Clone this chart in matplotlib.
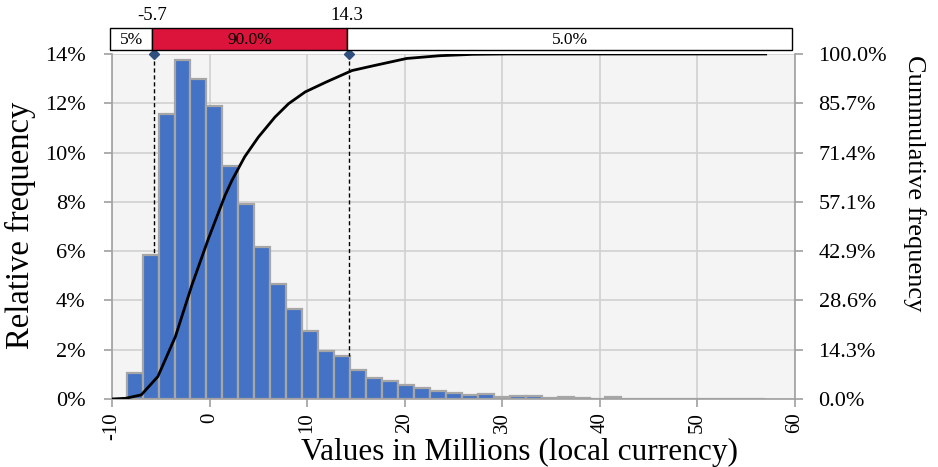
import matplotlib
matplotlib.use("Agg")
import matplotlib.pyplot as plt
import numpy as np

plt.rcParams['font.family'] = ['Liberation Serif', 'DejaVu Serif']
plt.rcParams['axes.unicode_minus'] = False

# ---- data ----
bin_start = -8.5
bin_width = 1.636
rel_freq = [1.05, 5.84, 11.55, 13.74, 12.98, 11.87, 9.45, 7.91, 6.18, 4.67,
            3.64, 2.74, 1.93, 1.76, 1.19, 0.86, 0.75, 0.58, 0.43, 0.33,
            0.24, 0.18, 0.20, 0.10, 0.14, 0.12, 0.06, 0.10, 0.05, 0.02,
            0.07, 0.02, 0.01, 0.02, 0.01, 0.01, 0.02, 0.01, 0.01, 0.02]

cdf_x = [-10, -8.6, -7.0, -5.3, -3.5, -1.8, -0.1, 1.6, 2.3, 3.6, 5.0, 6.7,
         8.1, 9.8, 11.9, 14.6, 16.8, 20.2, 23.6, 27.0, 30.5, 40, 57]
cdf_y = [0, 0.2, 1.2, 6.5, 18.1, 33.1, 46.6, 59.1, 63.4, 70.2, 75.9, 81.7,
         85.6, 89.0, 91.8, 95.2, 96.6, 98.7, 99.5, 99.9, 100, 100, 100]

p_low, p_high = -5.7, 14.3
seg_labels = ["5%", "90.0%", "5.0%"]
x_ticks = [-10, 0, 10, 20, 30, 40, 50, 60]
y_ticks = [0, 2, 4, 6, 8, 10, 12, 14]
y2_ticks = [i * 100 / 7 for i in range(8)]

# ---- figure ----
fig = plt.figure(figsize=(9.38, 4.67), dpi=100)
L, R, B, T = 0.1194, 0.8475, 0.1456, 0.8844
ax = fig.add_axes([L, B, R - L, T - B])
ax.set_facecolor('#f4f4f4')
ax.set_xlim(-10, 60)
ax.set_ylim(0, 14)

lefts = [bin_start + i * bin_width for i in range(len(rel_freq))]
ax.bar(lefts, rel_freq, width=bin_width, align='edge', color='#4472c4',
       edgecolor='#a6a6a6', linewidth=1.6, zorder=2)

ax.set_xticks(x_ticks)
ax.set_xticklabels([str(v) for v in x_ticks], rotation=90, fontsize=15)
ax.set_yticks(y_ticks)
ax.set_yticklabels([f"{v}%" for v in y_ticks], fontsize=16)
ax.grid(True, color='#d0d0d0', linewidth=1.2, zorder=0)
ax.set_axisbelow(True)
for s in ['top', 'right']:
    ax.spines[s].set_visible(False)
for s in ['left', 'bottom']:
    ax.spines[s].set_color('#a0a0a0')
    ax.spines[s].set_linewidth(1.2)
ax.tick_params(axis='both', colors='#a0a0a0', labelcolor='black', length=6, width=1.2)
ax.tick_params(axis='y', pad=13)

# dashed percentile lines down to bar tops
def bar_height_at(x):
    idx = int((x - bin_start) // bin_width)
    return rel_freq[idx]

for p in (p_low, p_high):
    ax.plot([p, p], [14, bar_height_at(p)], color='black', linestyle=(0, (3, 2)),
            linewidth=1.0, zorder=3)
    ax.plot([p], [14], marker='D', color='#2f4f7f', markersize=5, clip_on=False, zorder=5)

# cumulative axis
ax2 = ax.twinx()
ax2.set_ylim(0, 100)
ax2.plot(cdf_x, cdf_y, color='black', linewidth=2.0, zorder=4,
         solid_joinstyle='round')
ax2.set_yticks(y2_ticks)
ax2.set_yticklabels([f"{v:.1f}%" for v in y2_ticks], fontsize=16)
for s in ['top', 'left', 'bottom']:
    ax2.spines[s].set_visible(False)
ax2.spines['right'].set_color('#a0a0a0')
ax2.spines['right'].set_linewidth(1.2)
ax2.tick_params(axis='y', colors='#a0a0a0', labelcolor='black', length=6, width=1.2, pad=11)

# axis titles
fig.text(0.554, 0.032, "Values in Millions (local currency)",
         fontsize=22.5, ha='center', va='center')
fig.text(0.022, 0.518, "Relative frequency", fontsize=23.5, rotation=90,
         ha='center', va='center')
fig.text(0.975, 0.608, "Cummulative frequency", fontsize=19, rotation=-90,
         ha='center', va='center')

# top percentile box
bx = fig.add_axes([L - 0.002, 0.893, R - L - 0.001, 0.047])
bx.set_xlim(-10, 60)
bx.set_ylim(0, 1)
bx.axis('off')
segs = [(-10, p_low, 'white'), (p_low, p_high, '#dc143c'), (p_high, 60, 'white')]
for (a, b, c), lab in zip(segs, seg_labels):
    bx.add_patch(plt.Rectangle((a, 0), b - a, 1, facecolor=c, edgecolor='black',
                               linewidth=1.0, clip_on=False))
    bx.text((a + b) / 2, 0.45, lab, ha='center', va='center', fontsize=12.5)
for p in (p_low, p_high):
    bx.text(p, 1.2, f"{p:.1f}", ha='center', va='bottom', fontsize=13.5)

fig.savefig("out.png", dpi=100)
